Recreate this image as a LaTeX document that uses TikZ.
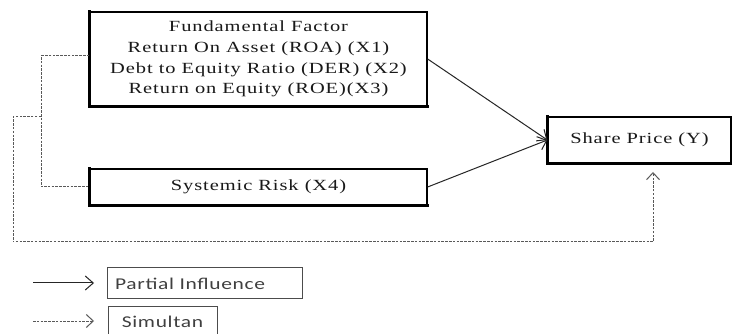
\documentclass[tikz,border=0pt]{standalone}
\usepackage{fontspec}
\setmainfont{Liberation Serif}
\newfontfamily\boxfont[FakeStretch=1.32,LetterSpace=6]{Liberation Serif}
\newfontfamily\legfont[FakeStretch=1.3,LetterSpace=4]{Carlito}
\usetikzlibrary{arrows.meta}
\begin{document}
\begin{tikzpicture}[x=1pt,y=-1pt,
  mainbox/.style={draw=black,line width=1.3pt,inner sep=0pt,align=center,
    font={\boxfont\fontsize{15.5}{20.7}\selectfont},text=black!90},
  legbox/.style={draw=black!70,line width=1pt,inner sep=0pt,
    font={\legfont\fontsize{16.5}{18}\selectfont},text=black!75},
  thickedge/.style={line width=2.8pt,line cap=rect},
  solidarr/.style={line width=1pt,black!85,-{Straight Barb[length=8pt,width=14pt,line width=1pt]}},
  dotline/.style={line width=1pt,black!65,dash pattern=on 2.5pt off 1.3pt},
  dotarr/.style={dotline,-{Straight Barb[length=7pt,width=13pt,line width=1pt]}}]
\useasboundingbox (0,0) rectangle (732,334);
\clip (0,0) rectangle (732,334);
\fill[white] (0,0) rectangle (732,334);

% main boxes
\node[mainbox,minimum width=337pt,minimum height=94pt] (fund) at (258.5,59)
  {Fundamental Factor\\Return On Asset (ROA) (X1)\\Debt to Equity Ratio (DER) (X2)\\Return on Equity (ROE)(X3)};
\node[mainbox,minimum width=337pt,minimum height=36pt] (risk) at (258.5,187) {Systemic Risk (X4)};
\node[mainbox,minimum width=183pt,minimum height=46pt] (price) at (639.5,140) {Share Price (Y)};

\draw[thickedge] (fund.north west) -- (fund.south west) -- (fund.south east);
\draw[thickedge] (risk.north west) -- (risk.south west) -- (risk.south east);
\draw[thickedge] (price.north west) -- (price.south west) -- (price.south east);

% partial arrows
\draw[solidarr] (fund.east) -- (price.west);
\draw[solidarr] (risk.east) -- (price.west);

% simultaneous dotted connector
\coordinate (vtop) at (41,56);
\coordinate (vbot) at (41,187);
\coordinate (vmid) at (41,117);
\coordinate (lft) at (13,117);
\coordinate (lbot) at (13,242);
\coordinate (rbot) at (653,242);
\coordinate (rtop) at (653,163);
\draw[dotline] (fund.west |- vtop) -- (vtop) -- (vbot) -- (risk.west);
\draw[dotarr,shorten >=9pt] (vmid) -- (lft) -- (lbot) -- (rbot) -- (rtop);

% legend
\coordinate (la1) at (33,283);
\coordinate (la2) at (94,283);
\coordinate (lb1) at (33,321);
\coordinate (lb2) at (94,321);
\draw[solidarr] (la1) -- (la2);
\draw[dotarr] (lb1) -- (lb2);
\node[legbox,minimum width=195pt,minimum height=31pt] (lpart) at (204.5,283.5) {};
\node[anchor=west,font={\legfont\fontsize{16.5}{18}\selectfont},text=black!75,inner sep=0pt] (lparttxt) at (115,283.5) {Partial Influence};
\node[legbox,minimum width=109pt,minimum height=30pt] (lsim) at (162.5,322) {Simultan};
\end{tikzpicture}
\end{document}
